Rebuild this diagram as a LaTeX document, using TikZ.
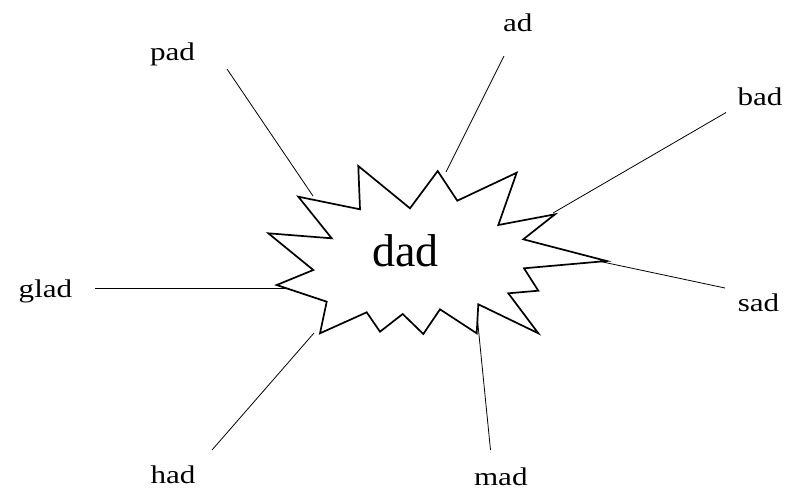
\documentclass[tikz,border=0pt]{standalone}
\usepackage{fontspec}
\setmainfont{Liberation Serif}
\newfontfamily\lblfont[FakeStretch=1.22]{Liberation Serif}
\begin{document}
\begin{tikzpicture}[x=1pt,y=-1pt,
  lbl/.style={anchor=base,inner sep=0pt,font=\lblfont\fontsize{25.5}{28}\selectfont},
  conn/.style={line width=0.8pt},
  burst/.style={draw,fill=white,line width=1.7pt,line join=miter}]
\useasboundingbox (0,0) rectangle (800,491);
% labels
\node[lbl] (pad) at (172.5,60.5) {pad};
\node[lbl] (ad) at (517.7,31) {ad};
\node[lbl] (bad) at (760,105) {bad};
\node[lbl] (glad) at (45.5,297) {glad};
\node[lbl] (sad) at (758.5,311) {sad};
\node[lbl] (had) at (173,483) {had};
\node[lbl] (mad) at (500.8,485) {mad};
% connector end points
\coordinate (padE) at (227,69);
\coordinate (padS) at (313,196);
\coordinate (adE) at (504,56);
\coordinate (adS) at (446,172);
\coordinate (badE) at (726,112.5);
\coordinate (badS) at (553,213);
\coordinate (gladE) at (95,288);
\coordinate (gladS) at (285,288);
\coordinate (sadE) at (725,288);
\coordinate (sadS) at (598,261);
\coordinate (hadE) at (212,450);
\coordinate (hadS) at (314,333);
\coordinate (madE) at (490.5,450);
\coordinate (madS) at (477.5,320);
\draw[conn] (padE) -- (padS);
\draw[conn] (adE) -- (adS);
\draw[conn] (badE) -- (badS);
\draw[conn] (gladE) -- (gladS);
\draw[conn] (sadE) -- (sadS);
\draw[conn] (hadE) -- (hadS);
\draw[conn] (madE) -- (madS);
% starburst
\draw[burst] (298.3,196.7) -- (360,209.3) -- (358.3,166) -- (410,208.3) -- (437.7,171)
  -- (457.3,200.7) -- (516.7,172.7) -- (498.3,225) -- (555,214.3) -- (523.3,239.3)
  -- (606.7,261) -- (524,268.3) -- (538.3,290.7) -- (508.3,293.3) -- (538.3,333.3)
  -- (478.3,304.3) -- (476.7,333.3) -- (440,309.3) -- (423.3,334) -- (402.7,314)
  -- (380,331.7) -- (366.7,312.3) -- (320,333.3) -- (326.7,301.7) -- (276.7,285)
  -- (313.3,270) -- (268.3,233.3) -- (331.7,238.3) -- cycle;
\node[anchor=base,inner sep=0pt,font=\fontsize{46}{50}\selectfont] (dad) at (405.5,266.7) {dad};
\end{tikzpicture}
\end{document}
